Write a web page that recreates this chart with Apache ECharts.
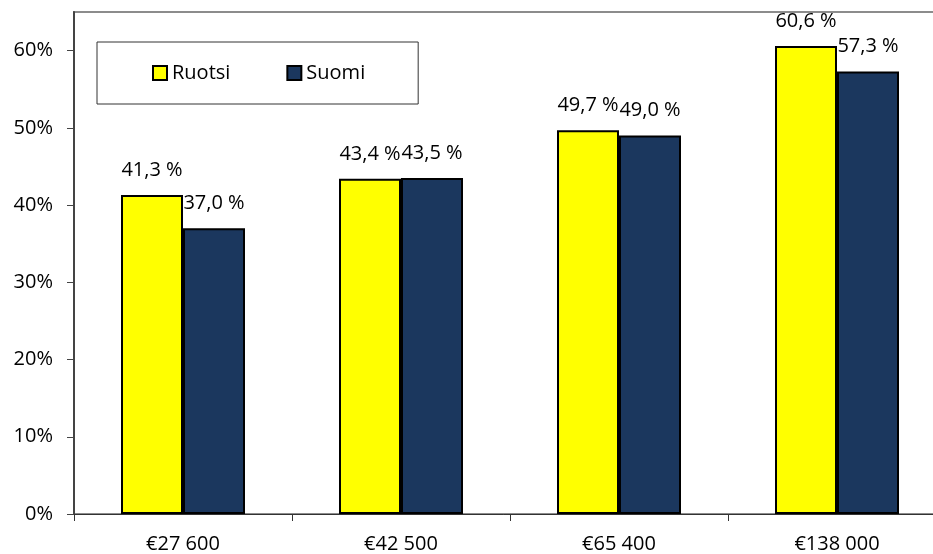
<!DOCTYPE html>
<html>
<head>
<meta charset="utf-8">
<script src="https://cdn.jsdelivr.net/npm/echarts@6/dist/echarts.min.js"></script>
<style>
  html, body { margin: 0; padding: 0; background: #fff; }
  #chart { width: 933px; height: 554px; }
</style>
</head>
<body>
<div id="chart"></div>
<script>
// Income levels and the share (%) for each country
const categories = ['€27 600', '€42 500', '€65 400', '€138 000'];
const ruotsi = [41.3, 43.4, 49.7, 60.6];
const suomi = [37.0, 43.5, 49.0, 57.3];
const yTicks = [0, 10, 20, 30, 40, 50, 60];

const FONT = 'Open Sans';
const FS = 20;
const fmt = v => v.toFixed(1).replace('.', ',') + ' %';

const chart = echarts.init(document.getElementById('chart'), null, { renderer: 'canvas' });

const barLabel = {
  show: true,
  position: 'top',
  distance: 15,
  color: '#000',
  fontFamily: FONT,
  fontSize: FS,
  formatter: p => fmt(p.value)
};

chart.setOption({
  animation: false,
  backgroundColor: '#fff',
  textStyle: { fontFamily: FONT },
  grid: {
    left: 74, top: 12, width: 872, bottom: 40,
    outerBoundsMode: 'none',
    containLabel: false,
    show: true, borderColor: '#8c8c8c', borderWidth: 2
  },
  legend: {
    data: ['Ruotsi', 'Suomi'],
    left: 97, top: 42,
    padding: [21, 53, 21, 55],
    itemGap: 56,
    itemWidth: 14, itemHeight: 14,
    icon: 'rect',
    backgroundColor: '#fff',
    borderColor: '#333',
    borderWidth: 1,
    itemStyle: { borderColor: '#000', borderWidth: 2 },
    textStyle: { fontFamily: FONT, fontSize: FS, color: '#000' }
  },
  xAxis: {
    type: 'category',
    data: categories,
    axisLine: { lineStyle: { color: '#333', width: 1 } },
    axisTick: { show: true, length: 7, lineStyle: { color: '#333' } },
    axisLabel: { margin: 20, color: '#000', fontFamily: FONT, fontSize: FS }
  },
  yAxis: {
    type: 'value',
    min: 0, max: 65, interval: 10,
    splitLine: { show: false },
    axisLine: { show: true, lineStyle: { color: '#444', width: 2 } },
    axisTick: { show: true, length: 7, customValues: yTicks, lineStyle: { color: '#444', width: 1 } },
    axisLabel: {
      customValues: yTicks,
      margin: 21, color: '#000', fontFamily: FONT, fontSize: FS,
      formatter: v => v + '%'
    }
  },
  series: [
    {
      name: 'Ruotsi',
      type: 'bar',
      z: 3,
      data: ruotsi,
      barWidth: 62,
      barGap: '0%',
      itemStyle: { color: '#ffff00', borderColor: '#000', borderWidth: 2 },
      label: barLabel
    },
    {
      name: 'Suomi',
      type: 'bar',
      z: 2,
      data: suomi,
      barWidth: 62,
      barGap: '0%',
      itemStyle: { color: '#1b375e', borderColor: '#000', borderWidth: 2 },
      label: barLabel
    }
  ]
});
</script>
</body>
</html>
